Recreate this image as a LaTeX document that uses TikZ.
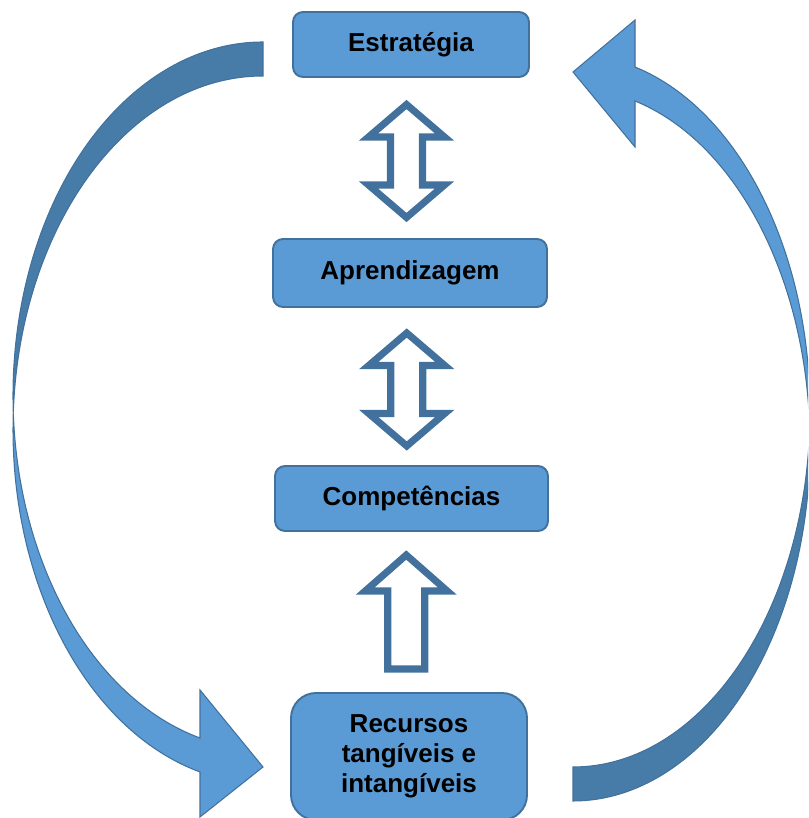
\documentclass[tikz,border=0pt]{standalone}
\usepackage{fontspec}
\setmainfont{Liberation Sans}
\usepackage{xcolor}
\usetikzlibrary{calc}

\definecolor{boxblue}{RGB}{91,155,213}
\definecolor{boxedge}{RGB}{65,113,156}
\definecolor{backblue}{RGB}{72,124,168}

\tikzset{
  stage/.style={draw=boxedge,fill=boxblue,line width=1.1pt,rounded corners=0.2cm,
    font=\fontsize{14.8}{17}\selectfont\bfseries,align=center,inner sep=0pt},
  blockline/.style={draw=boxedge,fill=white,line width=4pt,line join=miter},
  bandfront/.style={draw=boxedge,fill=boxblue,line width=0.6pt,line join=miter},
  bandback/.style={draw=boxedge,fill=backblue,line width=0.6pt,line join=miter},
  pics/twoway/.style={code={
    \draw[blockline] (0,56.5) -- (38,24) -- (16,24) -- (16,-24) -- (38,-24) -- (0,-56.5)
      -- (-38,-24) -- (-16,-24) -- (-16,24) -- (-38,24) -- cycle;}},
  pics/oneway/.style={code={
    \draw[blockline] (0,57) -- (41,21) -- (18.5,21) -- (18.5,-57) -- (-18.5,-57)
      -- (-18.5,21) -- (-41,21) -- cycle;}}
}

\begin{document}
\begin{tikzpicture}[x=0.02cm,y=0.02cm]
  \useasboundingbox (0,0) rectangle (808,818);
  \clip (0,0) rectangle (808,818);

  % stages
  \node[stage,minimum width=4.72cm,minimum height=1.30cm] (estr) at (411,773.5) {Estratégia};
  \node[stage,minimum width=5.48cm,minimum height=1.36cm] (aprend) at (410,545) {Aprendizagem};
  \node[stage,minimum width=5.46cm,minimum height=1.30cm] (comp) at (411.5,319.5) {Competências};
  \node[stage,rounded corners=0.5cm,minimum width=4.72cm,minimum height=2.54cm] (recur) at (409,61.5)
    {Recursos\\tangíveis e\\intangíveis};

  % block arrows between the stages
  \pic at ($(estr.south)!0.5!(aprend.north)+(-4,-3)$) {twoway};
  \pic at ($(aprend.south)!0.5!(comp.north)+(-4,-3)$) {twoway};
  \pic at ($(comp.south)!0.5!(recur.north)+(-4,0)$) {oneway};

  % left loop: strategy down to resources
  \draw[bandback] (263,776) arc[start angle=90,end angle=182.755,x radius=250,y radius=353.7]
    arc[start angle=177.245,end angle=90,x radius=250,y radius=353.7] -- cycle;
  \draw[bandfront] (200,80.02) arc[start angle=255.4,end angle=182.755,x radius=250,y radius=353.7]
    arc[start angle=177.245,end angle=255.4,x radius=250,y radius=353.7]
    -- (200,1) -- (263,51) -- (200,128) -- cycle;

  % right loop: resources back up to strategy
  \draw[bandback] (573,51) arc[start angle=-90,end angle=-2.735,x radius=237,y radius=356.2]
    arc[start angle=2.735,end angle=-90,x radius=237,y radius=356.2] -- cycle;
  \draw[bandfront] (635,750.99) arc[start angle=74.83,end angle=-2.735,x radius=237,y radius=356.2]
    arc[start angle=2.735,end angle=74.83,x radius=237,y radius=356.2]
    -- (635,671) -- (573,746) -- (635,798) -- cycle;
\end{tikzpicture}
\end{document}
